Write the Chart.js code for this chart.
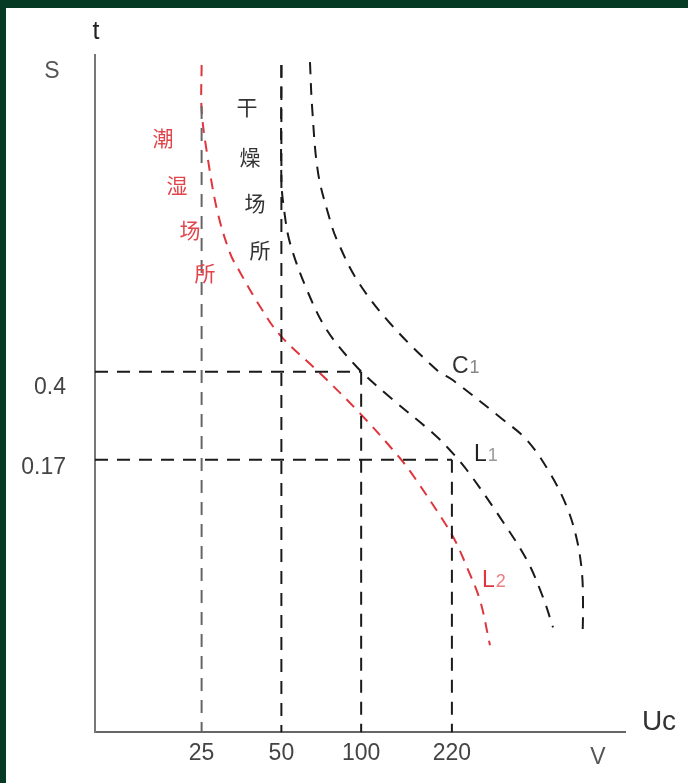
<!DOCTYPE html>
<html><head><meta charset="utf-8">
<script src="https://cdn.jsdelivr.net/npm/chart.js@4.4.1/dist/chart.umd.min.js"></script>
<style>html,body{margin:0;padding:0;background:#fff;overflow:hidden}#wrap{width:688px;height:783px;position:relative}</style>
</head><body><div id="wrap"><canvas id="c" width="688" height="783"></canvas></div>
<script>
// ---- data (x: Uc in V, log scale; y: t in s, log scale) ----
const xTickValues = [25, 50, 100, 220];
const yTickValues = [0.4, 0.17];
const xRange = [9.9, 990];
const yRange = [0.012, 8.7];

// C1 curve
const c1V = [64.1, 65.3, 68.8, 76.3, 81.1, 96.5, 128.5, 193.4, 222.2, 334.2, 422.6, 516.2, 598.1, 652.5, 681.4, 687.4, 685];
const c1T = [8.12, 5.24, 2.76, 1.747, 1.438, 0.975, 0.641, 0.406, 0.368, 0.257, 0.2055, 0.149, 0.1071, 0.0777, 0.0563, 0.0405, 0.0308];
// L1 curve (dry locations)
const l1V = [50, 50, 51.2, 53.9, 62.5, 74.3, 96.5, 128.5, 186.7, 216.4, 250.9, 334.2, 422.6, 485.7, 529.7];
const l1T = [7.89, 2.578, 1.925, 1.397, 0.884, 0.599, 0.418, 0.312, 0.220, 0.1865, 0.1535, 0.0971, 0.0639, 0.0446, 0.0333];
// L2 curve (damp locations)
const l2V = [25, 25, 26.2, 28.6, 32.0, 34.9, 40.8, 49.4, 70.0, 99.0, 140.2, 159.7, 203.7, 225.9, 250.9, 280.9, 306.3];
const l2T = [7.89, 5.09, 3.35, 1.925, 1.267, 1.053, 0.779, 0.571, 0.394, 0.267, 0.1725, 0.142, 0.0944, 0.0777, 0.0597, 0.0433, 0.0280];

// guide lines
const vGuideX = [25, 50, 100, 220];
const vGuideTop = [5.3, 7.89, 0.4, 0.17];
const hGuideT = [0.4, 0.17];
const hGuideRight = [100, 220];

const toPts = (xs, ys) => xs.map((x, i) => ({x: x, y: ys[i]}));
const BLACK = '#1a1a1a', RED = '#e0353c';
const dsBase = {showLine: true, pointRadius: 0, borderWidth: 2, fill: false};

const datasets = [];
vGuideX.forEach((v, i) => datasets.push(Object.assign({}, dsBase, {
  data: toPts([v, v], [vGuideTop[i], yRange[0]]),
  borderColor: i === 0 ? '#666' : BLACK, borderDash: [13, 9], tension: 0
})));
hGuideT.forEach((t, i) => datasets.push(Object.assign({}, dsBase, {
  data: toPts([xRange[0], hGuideRight[i]], [t, t]),
  borderColor: BLACK, borderDash: [13, 9], tension: 0
})));
datasets.push(Object.assign({}, dsBase, {label: 'C1', data: toPts(c1V, c1T), borderColor: BLACK, borderDash: [12, 9], tension: 0.35}));
datasets.push(Object.assign({}, dsBase, {label: 'L1', data: toPts(l1V, l1T), borderColor: BLACK, borderDash: [12, 9], tension: 0.35}));
datasets.push(Object.assign({}, dsBase, {label: 'L2', data: toPts(l2V, l2T), borderColor: RED, borderDash: [11, 8], tension: 0.35}));

const SANS = '"Liberation Sans", Arial, sans-serif';
const CJK = '"Noto Sans CJK SC", sans-serif';

function sub(ctx, main, s, x, y, size, cMain, cSub) {
  ctx.textAlign = 'left';
  ctx.textBaseline = 'alphabetic';
  ctx.font = size + 'px ' + SANS;
  ctx.fillStyle = cMain;
  ctx.fillText(main, x, y);
  const w = ctx.measureText(main).width;
  ctx.font = Math.round(size * 0.8) + 'px ' + SANS;
  ctx.fillStyle = cSub;
  ctx.fillText(s, x + w + 1, y);
}

const decor = {
  id: 'decor',
  beforeDraw(chart) {
    const ctx = chart.ctx;
    ctx.save();
    ctx.fillStyle = '#ffffff';
    ctx.fillRect(0, 0, chart.width, chart.height);
    ctx.fillStyle = '#063a24';
    ctx.fillRect(0, 0, chart.width, 8);
    ctx.fillRect(0, 0, 6, chart.height);
    ctx.restore();
  },
  afterDraw(chart) {
    const ctx = chart.ctx;
    const ys = chart.scales.y;
    ctx.save();
    ctx.textAlign = 'center';
    ctx.textBaseline = 'middle';
    // axis names
    ctx.fillStyle = '#222';
    ctx.font = '25px ' + SANS;
    ctx.fillText('t', 96, 32);
    ctx.fillStyle = '#555';
    ctx.font = '23px ' + SANS;
    ctx.fillText('S', 52, 72);
    ctx.fillStyle = '#333';
    ctx.font = '28px ' + SANS;
    ctx.fillText('Uc', 659, 722);
    ctx.fillStyle = '#555';
    ctx.font = '23px ' + SANS;
    ctx.fillText('V', 598, 758);
    // y tick labels
    ctx.textAlign = 'right';
    ctx.fillStyle = '#444';
    ctx.font = '23px ' + SANS;
    const offs = [16, 8];
    yTickValues.forEach((v, i) => ctx.fillText(String(v), 66, ys.getPixelForValue(v) + offs[i]));
    // curve labels
    sub(ctx, 'C', '1', 452, 373, 23, '#333', '#888');
    sub(ctx, 'L', '1', 474, 461, 23, '#222', '#999');
    sub(ctx, 'L', '2', 482, 587, 23, '#e0353c', '#ef7b7f');
    // Chinese labels
    ctx.textAlign = 'center';
    ctx.textBaseline = 'middle';
    ctx.font = '21px ' + CJK;
    ctx.fillStyle = '#333';
    [['干', 247, 107], ['燥', 250, 157], ['场', 255, 203], ['所', 260, 250]].forEach(a => ctx.fillText(a[0], a[1], a[2]));
    ctx.fillStyle = '#e0454b';
    [['潮', 163, 138], ['湿', 177, 185], ['场', 190, 230], ['所', 205, 273]].forEach(a => ctx.fillText(a[0], a[1], a[2]));
    ctx.restore();
  }
};

new Chart(document.getElementById('c'), {
  type: 'scatter',
  data: {datasets: datasets},
  options: {
    responsive: false,
    animation: false,
    devicePixelRatio: 1,
    layout: {padding: {left: 95, right: 63, top: 55, bottom: 9}},
    plugins: {legend: {display: false}, tooltip: {enabled: false}},
    scales: {
      x: {
        type: 'logarithmic', min: xRange[0], max: xRange[1],
        grid: {display: false, drawTicks: false},
        border: {display: true, color: '#666', width: 2},
        afterBuildTicks: s => { s.ticks = xTickValues.map(v => ({value: v})); },
        ticks: {autoSkip: false, maxRotation: 0, padding: 7, color: '#444', font: {size: 23, family: SANS}, callback: v => String(v)}
      },
      y: {
        type: 'logarithmic', min: yRange[0], max: yRange[1],
        grid: {display: false, drawTicks: false},
        border: {display: true, color: '#777', width: 2},
        ticks: {display: false}
      }
    }
  },
  plugins: [decor]
});
</script>
</body></html>
